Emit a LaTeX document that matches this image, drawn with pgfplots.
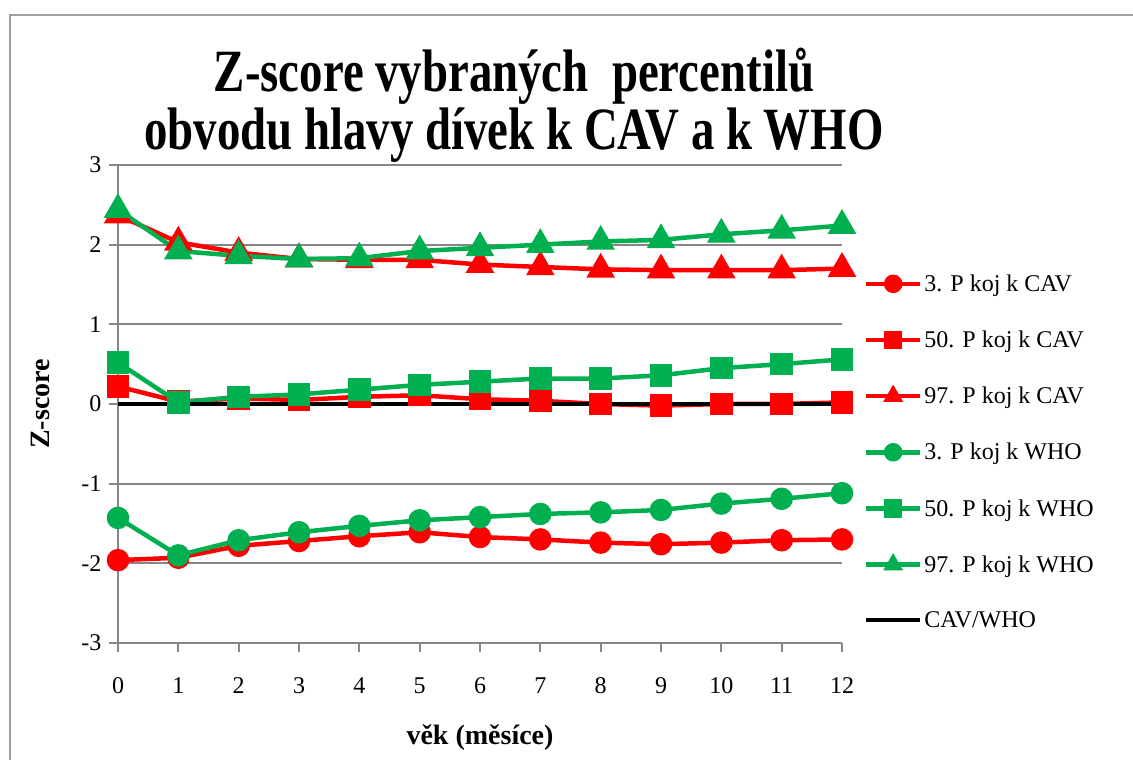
\documentclass[border=0pt]{standalone}
\usepackage{fontspec}
\setmainfont{Liberation Serif}
\newfontfamily\titlefont[FakeStretch=0.78]{Liberation Serif}
\usepackage{pgfplots}
\pgfplotsset{compat=1.18}

\definecolor{cavred}{RGB}{255,0,0}
\definecolor{whogreen}{RGB}{0,176,80}
\definecolor{gridgray}{RGB}{134,134,134}
\definecolor{framegray}{RGB}{160,160,160}

\begin{document}
\begin{tikzpicture}
\path[use as bounding box] (0pt,0pt) rectangle (1133pt,760pt);
\draw[framegray, line width=2pt] (10pt,0pt) -- (10pt,745pt) -- (1133pt,745pt);

\node[anchor=base, font=\titlefont\bfseries\fontsize{60}{60}\selectfont] at (514pt,668pt) {Z-score vybraných\ \ percentilů};
\node[anchor=base, font=\titlefont\bfseries\fontsize{60}{60}\selectfont] at (514pt,610pt) {obvodu hlavy dívek k CAV a k WHO};

\begin{axis}[
    at={(118pt,117pt)}, anchor=south west,
    scale only axis, width=724pt, height=478pt,
    xmin=0, xmax=12, ymin=-3, ymax=3,
    xtick={0,1,...,12}, ytick={-3,-2,...,3},
    clip=false,
    axis lines*=left,
    axis line style={gridgray, line width=2pt},
    ymajorgrids=true,
    grid style={gridgray, line width=2pt},
    tick align=outside,
    major tick length=9pt,
    tick style={gridgray, line width=2pt},
    /pgf/number format/assume math mode=true,
    ticklabel style={font=\fontsize{24}{24}\selectfont},
    xticklabel style={yshift=-22pt},
    yticklabel style={xshift=-4pt},
    legend cell align=left,
    legend style={at={(rel axis cs:1.03,0.775)}, anchor=north west, draw=none, fill=none,
        font=\fontsize{24}{24}\selectfont, row sep=34pt, inner sep=0pt},
    legend image code/.code={\draw[mark repeat=2,mark phase=2,#1,mark size=7pt]
        plot coordinates {(0pt,0pt)(27pt,0pt)(54pt,0pt)};},
    every axis plot/.append style={line width=4.5pt},
]
\addplot[cavred, mark=*, mark size=9pt] coordinates {(0,-1.96)(1,-1.93)(2,-1.78)(3,-1.72)(4,-1.66)(5,-1.61)(6,-1.67)(7,-1.70)(8,-1.74)(9,-1.76)(10,-1.74)(11,-1.71)(12,-1.70)};
\addlegendentry{3. P koj k CAV}
\addplot[cavred, mark=square*, mark size=9pt] coordinates {(0,0.22)(1,0.03)(2,0.07)(3,0.05)(4,0.09)(5,0.11)(6,0.06)(7,0.04)(8,0.00)(9,-0.02)(10,0.00)(11,0.00)(12,0.02)};
\addlegendentry{50. P koj k CAV}
\addplot[cavred, mark=triangle*, mark size=12pt] coordinates {(0,2.37)(1,2.03)(2,1.90)(3,1.82)(4,1.81)(5,1.81)(6,1.75)(7,1.72)(8,1.69)(9,1.68)(10,1.68)(11,1.68)(12,1.70)};
\addlegendentry{97. P koj k CAV}
\addplot[whogreen, mark=*, mark size=9pt] coordinates {(0,-1.43)(1,-1.90)(2,-1.71)(3,-1.61)(4,-1.53)(5,-1.46)(6,-1.42)(7,-1.38)(8,-1.36)(9,-1.33)(10,-1.25)(11,-1.19)(12,-1.12)};
\addlegendentry{3. P koj k WHO}
\addplot[whogreen, mark=square*, mark size=9pt] coordinates {(0,0.52)(1,0.02)(2,0.09)(3,0.12)(4,0.18)(5,0.24)(6,0.28)(7,0.32)(8,0.32)(9,0.36)(10,0.45)(11,0.50)(12,0.56)};
\addlegendentry{50. P koj k WHO}
\addplot[whogreen, mark=triangle*, mark size=12pt] coordinates {(0,2.44)(1,1.92)(2,1.86)(3,1.82)(4,1.83)(5,1.92)(6,1.96)(7,2.00)(8,2.04)(9,2.06)(10,2.13)(11,2.18)(12,2.24)};
\addlegendentry{97. P koj k WHO}
\addplot[black, no marks, line width=4pt] coordinates {(0,0)(12,0)};
\addlegendentry{CAV/WHO}
\end{axis}

\node[rotate=90, font=\bfseries\fontsize{28}{28}\selectfont] at (40pt,356pt) {Z-score};
\node[font=\bfseries\fontsize{28}{28}\selectfont] at (480pt,22pt) {věk (měsíce)};
\end{tikzpicture}
\end{document}
